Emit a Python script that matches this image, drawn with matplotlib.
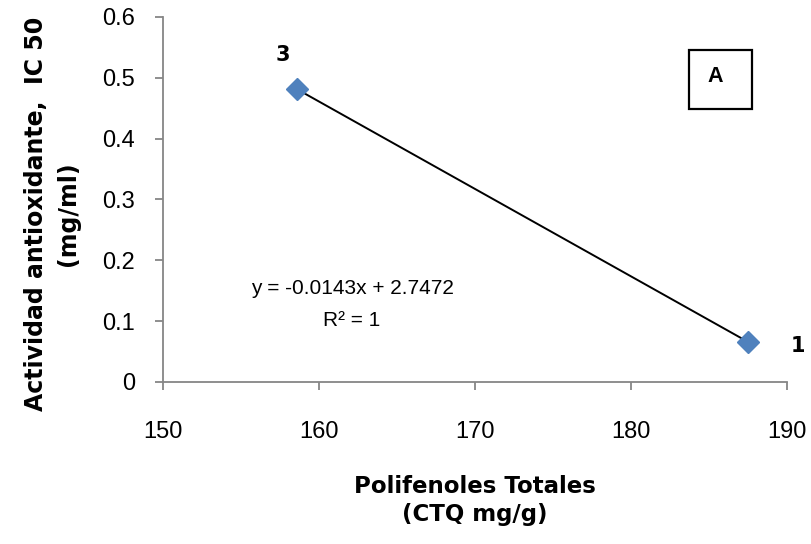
import numpy as np
import matplotlib
matplotlib.use("Agg")
import matplotlib.pyplot as plt
from matplotlib.patches import Rectangle

# polifenoles totales vs IC50
x_vals = [158.6, 187.5]
y_vals = [0.481, 0.066]
point_labels = ["3", "1"]
x_ticks = [150, 160, 170, 180, 190]
y_ticks = [0, 0.1, 0.2, 0.3, 0.4, 0.5, 0.6]
eq_text = "y = -0.0143x + 2.7472\nR² = 1"

grey = "#868686"
blue = "#4F81BD"

fig = plt.figure(figsize=(8.11, 5.44), dpi=100)
ax = fig.add_axes([0.201, 0.298, 0.769, 0.671])

# linear trendline over data range
coef = np.polyfit(x_vals, y_vals, 1)
xl = np.array([min(x_vals), max(x_vals)])
ax.plot(xl, np.polyval(coef, xl), color="black", lw=1.4, zorder=2)
ax.plot(x_vals, y_vals, linestyle="none", marker="D", markersize=11,
        color=blue, zorder=3)

ax.set_xlim(150, 190)
ax.set_ylim(0, 0.6)
ax.set_xticks(x_ticks)
ax.set_yticks(y_ticks)
ax.set_yticklabels(["0" if v == 0 else f"{v:.1f}" for v in y_ticks])

for s in ["top", "right"]:
    ax.spines[s].set_visible(False)
for s in ["left", "bottom"]:
    ax.spines[s].set_color(grey)
    ax.spines[s].set_linewidth(1.3)
ax.tick_params(direction="out", length=6, width=1.3, color=grey,
               labelsize=17)
ax.tick_params(axis="x", pad=22)
ax.tick_params(axis="y", pad=14)
for lab in ax.get_xticklabels() + ax.get_yticklabels():
    lab.set_fontfamily("Liberation Sans")

ax.set_xlabel("Polifenoles Totales\n(CTQ mg/g)", fontsize=16.5,
              fontweight="bold", labelpad=23, linespacing=1.3)
ax.set_ylabel("Actividad antioxidante,  IC 50\n(mg/ml)", fontsize=17,
              fontweight="bold", linespacing=1.45)
ax.yaxis.set_label_coords(-0.133, 0.46)

# point labels
ax.annotate(point_labels[0], (x_vals[0], y_vals[0]), xytext=(-10, 25),
            textcoords="offset points", fontsize=15, fontweight="bold",
            ha="center", va="center")
ax.annotate(point_labels[1], (x_vals[1], y_vals[1]), xytext=(36, -3),
            textcoords="offset points", fontsize=15, fontweight="bold",
            ha="center", va="center")

ax.text(0.303, 0.212, eq_text, transform=ax.transAxes, fontsize=15,
        ha="center", va="center", linespacing=1.9,
        fontfamily="Liberation Sans")

ax.add_patch(Rectangle((0.8429, 0.7479), 0.1010, 0.1616,
                       transform=ax.transAxes, fc="white", ec="black",
                       lw=1.6, zorder=4))
ax.text(0.885, 0.836, "A", transform=ax.transAxes, fontsize=15.5,
        fontweight="bold", ha="center", va="center",
        fontfamily="Liberation Sans", zorder=5)

fig.savefig("out.png", dpi=100)
